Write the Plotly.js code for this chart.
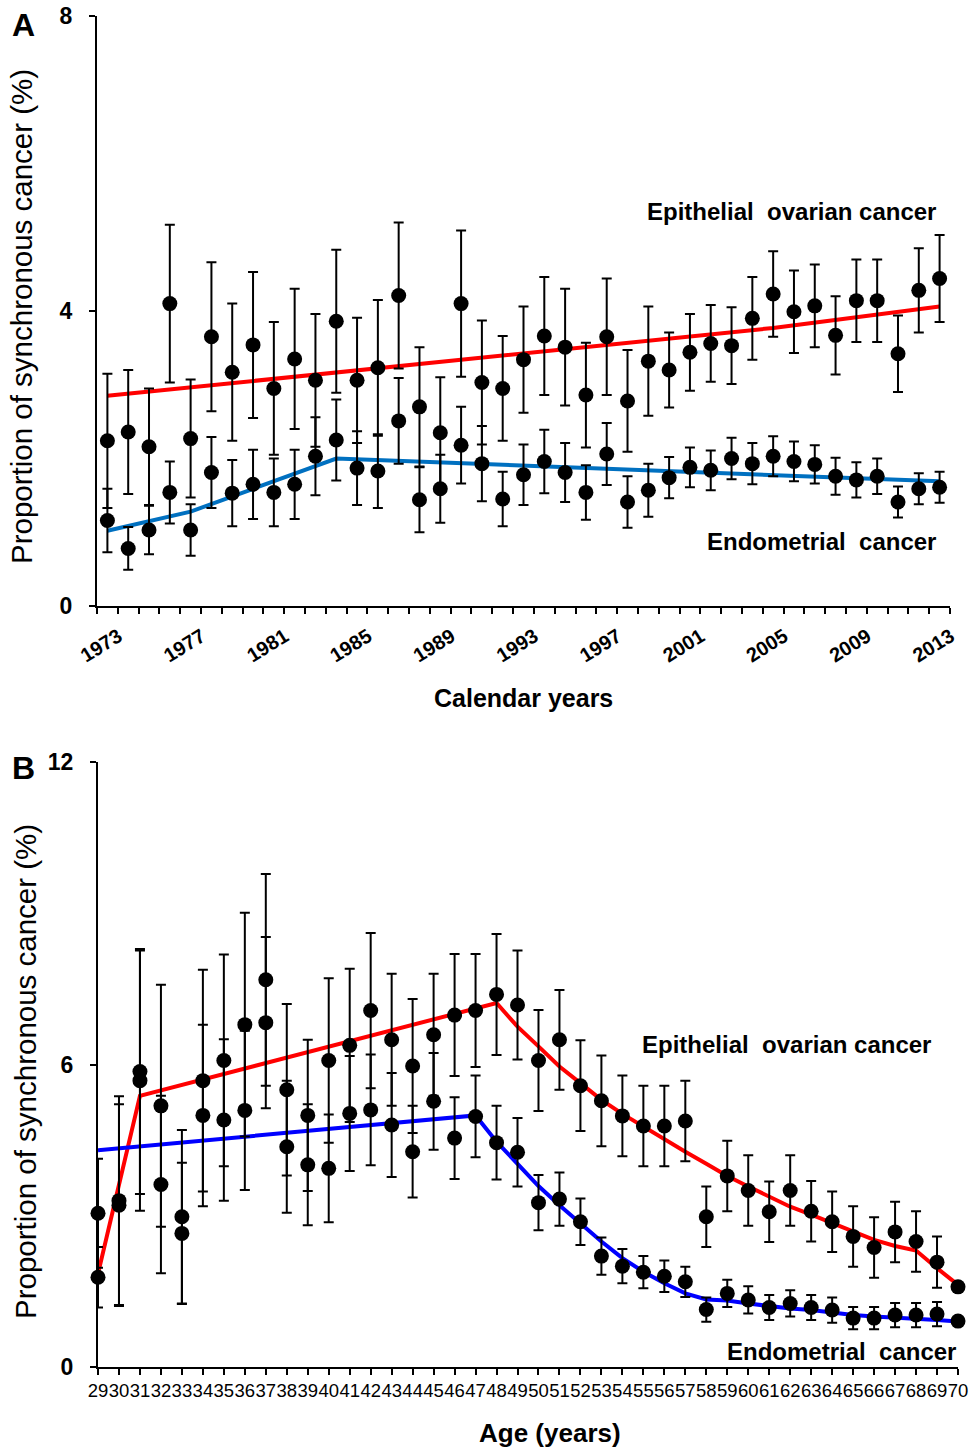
<!DOCTYPE html>
<html>
<head>
<meta charset="utf-8">
<script src="https://cdn.plot.ly/plotly-3.0.1.min.js"></script>
<style>
  html, body { margin: 0; padding: 0; background: #fff; }
  #chart { width: 969px; height: 1451px; }
</style>
</head>
<body>
<div id="chart"></div>
<script>
// ---------- Panel A: calendar years ----------
const years = [1973,1974,1975,1976,1977,1978,1979,1980,1981,1982,1983,1984,1985,1986,1987,1988,1989,1990,1991,1992,
               1993,1994,1995,1996,1997,1998,1999,2000,2001,2002,2003,2004,2005,2006,2007,2008,2009,2010,2011,2012,2013];
const yearTickLabels = [1973,1977,1981,1985,1989,1993,1997,2001,2005,2009,2013];

const ovarianByYear = [2.24,2.36,2.16,4.10,2.27,3.65,3.17,3.54,2.95,3.35,3.06,3.86,3.06,3.23,4.21,2.70,2.35,4.10,3.03,2.95,
                       3.34,3.66,3.51,2.86,3.65,2.78,3.32,3.20,3.44,3.56,3.53,3.90,4.23,3.99,4.07,3.67,4.14,4.14,3.42,4.28,4.44];
const ovarianByYearErr = [0.91,0.84,0.79,1.07,0.80,1.01,0.93,0.99,0.90,0.95,0.90,0.97,0.85,0.92,0.99,0.81,0.75,0.99,0.84,0.71,
                          0.72,0.80,0.79,0.71,0.79,0.69,0.74,0.51,0.52,0.52,0.52,0.56,0.58,0.56,0.56,0.53,0.56,0.56,0.52,0.57,0.59];
const endometrialByYear = [1.16,0.78,1.03,1.54,1.03,1.81,1.53,1.65,1.54,1.65,2.03,2.25,1.87,1.83,2.51,1.44,1.59,2.18,1.93,1.45,
                           1.78,1.96,1.81,1.54,2.06,1.41,1.57,1.74,1.88,1.84,2.00,1.93,2.03,1.96,1.92,1.76,1.71,1.76,1.41,1.59,1.61];
const endometrialByYearErr = [0.43,0.29,0.33,0.42,0.35,0.48,0.45,0.47,0.46,0.47,0.53,0.55,0.50,0.50,0.58,0.44,0.46,0.52,0.51,0.37,
                              0.41,0.43,0.40,0.37,0.42,0.35,0.36,0.28,0.27,0.27,0.28,0.28,0.27,0.27,0.26,0.25,0.24,0.24,0.21,0.21,0.21];

// fitted (joinpoint) trend lines, panel A
const ovarianYearFitX = [1973, 2005, 2013];
const ovarianYearFitY = [2.85, 3.77, 4.06];
const endometrialYearFitX = [1973, 1977, 1984, 2013];
const endometrialYearFitY = [1.02, 1.28, 2.00, 1.69];

// ---------- Panel B: age ----------
const ages = [29,30,31,32,33,34,35,36,37,38,39,40,41,42,43,44,45,46,47,48,49,
              50,51,52,53,54,55,56,57,58,59,60,61,62,63,64,65,66,67,68,69,70];
const ovarianByAge = [1.78,3.21,5.68,5.18,2.98,5.68,6.08,6.79,7.68,5.50,4.99,6.08,6.38,7.07,6.49,5.97,6.59,6.98,7.07,7.39,7.18,
                      6.08,6.49,5.58,5.28,4.98,4.78,4.78,4.88,2.98,3.79,3.50,3.08,3.50,3.09,2.88,2.59,2.37,2.68,2.49,2.08,1.59];
const ovarianByAgeErr = [0.60,2.00,2.58,2.40,1.72,2.20,2.10,2.22,2.10,1.70,1.50,1.63,1.52,1.54,1.31,1.33,1.21,1.21,1.12,1.20,1.08,
                         1.00,0.99,0.90,0.90,0.80,0.80,0.80,0.80,0.60,0.70,0.70,0.60,0.70,0.60,0.60,0.60,0.60,0.60,0.60,0.51,0.00];
const endometrialByAge = [3.05,3.30,5.86,3.62,2.65,4.99,4.90,5.09,6.83,4.37,4.01,3.94,5.03,5.10,4.80,4.27,5.27,4.54,4.97,4.45,4.26,
                          3.26,3.33,2.88,2.20,2.00,1.88,1.80,1.69,1.14,1.46,1.33,1.18,1.26,1.18,1.13,0.97,0.97,1.03,1.03,1.05,0.91];
const endometrialByAgeErr = [1.08,2.07,2.43,1.76,1.40,1.80,1.60,1.58,1.70,1.31,1.20,1.07,1.14,1.10,1.03,0.91,0.96,0.81,0.81,0.73,0.68,
                             0.55,0.53,0.46,0.37,0.34,0.32,0.31,0.30,0.24,0.27,0.27,0.25,0.26,0.25,0.25,0.22,0.22,0.24,0.24,0.24,0.00];

// fitted trend lines, panel B
const ovarianAgeFitX = [29,31,48,49,50,51,52,53,54,55,56,57,58,59,60,61,62,63,64,65,66,67,68,69,70];
const ovarianAgeFitY = [1.85,5.38,7.22,6.75,6.36,5.96,5.63,5.30,5.02,4.77,4.50,4.27,4.03,3.79,3.58,3.37,3.18,3.02,2.85,2.69,2.52,2.40,2.31,1.96,1.63];
const endometrialAgeFitX = [29,47,48,49,50,51,52,53,54,55,56,57,58,59,60,61,62,63,64,65,66,67,68,69,70];
const endometrialAgeFitY = [4.30,4.99,4.47,4.04,3.59,3.21,2.85,2.49,2.16,1.89,1.66,1.46,1.34,1.32,1.26,1.21,1.16,1.13,1.08,1.03,1.00,0.98,0.97,0.93,0.90];

// ---------- styling ----------
const FONT = "Liberation Sans, Arial, Helvetica, sans-serif";
const W = 969, H = 1451;
const px = v => v / W;
const py = v => (H - v) / H;

function pointsTrace(x, y, err, xa, ya) {
  return {
    x: x, y: y, xaxis: xa, yaxis: ya, type: 'scatter', mode: 'markers',
    marker: { color: '#000', size: 15 },
    error_y: { type: 'data', array: err, visible: true, color: '#000', thickness: 2, width: 5 },
    cliponaxis: false, showlegend: false, hoverinfo: 'x+y'
  };
}
function lineTrace(x, y, color, xa, ya) {
  return {
    x: x, y: y, xaxis: xa, yaxis: ya, type: 'scatter', mode: 'lines',
    line: { color: color, width: 4 }, cliponaxis: false, showlegend: false, hoverinfo: 'skip'
  };
}

const data = [
  lineTrace(ovarianYearFitX, ovarianYearFitY, '#FF0000', 'x', 'y'),
  lineTrace(endometrialYearFitX, endometrialYearFitY, '#0070C0', 'x', 'y'),
  pointsTrace(years, ovarianByYear, ovarianByYearErr, 'x', 'y'),
  pointsTrace(years, endometrialByYear, endometrialByYearErr, 'x', 'y'),
  lineTrace(ovarianAgeFitX, ovarianAgeFitY, '#FF0000', 'x2', 'y2'),
  lineTrace(endometrialAgeFitX, endometrialAgeFitY, '#0000FF', 'x2', 'y2'),
  pointsTrace(ages, ovarianByAge, ovarianByAgeErr, 'x2', 'y2'),
  pointsTrace(ages, endometrialByAge, endometrialByAgeErr, 'x2', 'y2')
];

const axisLine = { showline: true, linecolor: '#000', linewidth: 2, showgrid: false, zeroline: false };

const layout = {
  width: W, height: H,
  margin: { l: 0, r: 0, t: 0, b: 0 },
  paper_bgcolor: '#fff', plot_bgcolor: '#fff',
  font: { family: FONT, color: '#000' },
  showlegend: false,
  xaxis: Object.assign({}, axisLine, {
    domain: [px(97), px(950)],
    range: [1972.5, 2013.5],
    tickmode: 'array', tickvals: yearTickLabels, ticktext: yearTickLabels.map(String),
    ticks: '', tickangle: -32, ticklabelstandoff: 9, ticklabelshift: 11,
    tickfont: { family: FONT, size: 20, color: '#000', weight: 'bold' },
    minor: { tickmode: 'linear', tick0: 1972.5, dtick: 1, ticks: 'outside', ticklen: 6, tickwidth: 2, tickcolor: '#000', showgrid: false }
  }),
  yaxis: Object.assign({}, axisLine, {
    domain: [py(606), py(16)],
    range: [0, 8],
    tickmode: 'array', tickvals: [0, 4, 8],
    ticks: 'outside', ticklen: 6, tickwidth: 2, tickcolor: '#000', ticklabelstandoff: 12,
    tickfont: { family: FONT, size: 23, color: '#000', weight: 'bold' }
  }),
  xaxis2: Object.assign({}, axisLine, {
    domain: [px(98), px(958)],
    range: [29, 70],
    anchor: 'y2',
    tickmode: 'array', tickvals: ages, ticktext: ages.map(String),
    ticks: 'outside', ticklen: 6, tickwidth: 2, tickcolor: '#000', tickangle: 0,
    tickfont: { family: FONT, size: 18.5, color: '#000' }
  }),
  yaxis2: Object.assign({}, axisLine, {
    domain: [py(1367), py(762)],
    range: [0, 12],
    anchor: 'x2',
    tickmode: 'array', tickvals: [0, 6, 12],
    ticks: 'outside', ticklen: 6, tickwidth: 2, tickcolor: '#000', ticklabelstandoff: 12,
    tickfont: { family: FONT, size: 23, color: '#000', weight: 'bold' }
  }),
  annotations: [
    { text: '<b>A</b>', x: px(23), y: py(25), xref: 'paper', yref: 'paper', xanchor: 'center', yanchor: 'middle', showarrow: false, font: { family: FONT, size: 32, color: '#000' } },
    { text: '<b>B</b>', x: px(23), y: py(768), xref: 'paper', yref: 'paper', xanchor: 'center', yanchor: 'middle', showarrow: false, font: { family: FONT, size: 32, color: '#000' } },
    { text: 'Proportion of synchronous cancer (%)', x: px(22), y: py(317), xref: 'paper', yref: 'paper', xanchor: 'center', yanchor: 'middle', textangle: -90, showarrow: false, font: { family: FONT, size: 29.5, color: '#000' } },
    { text: 'Proportion of synchronous cancer (%)', x: px(25), y: py(1072), xref: 'paper', yref: 'paper', xanchor: 'center', yanchor: 'middle', textangle: -90, showarrow: false, font: { family: FONT, size: 29.5, color: '#000' } },
    { text: '<b>Calendar years</b>', x: px(523), y: py(698), xref: 'paper', yref: 'paper', xanchor: 'center', yanchor: 'middle', showarrow: false, font: { family: FONT, size: 25, color: '#000' } },
    { text: '<b>Age (years)</b>', x: px(550), y: py(1433), xref: 'paper', yref: 'paper', xanchor: 'center', yanchor: 'middle', showarrow: false, font: { family: FONT, size: 26, color: '#000' } },
    { text: '<b>Epithelial&nbsp; ovarian cancer</b>', x: px(938), y: py(211), xref: 'paper', yref: 'paper', xanchor: 'right', yanchor: 'middle', showarrow: false, font: { family: FONT, size: 24, color: '#000' } },
    { text: '<b>Endometrial&nbsp; cancer</b>', x: px(938), y: py(541), xref: 'paper', yref: 'paper', xanchor: 'right', yanchor: 'middle', showarrow: false, font: { family: FONT, size: 24, color: '#000' } },
    { text: '<b>Epithelial&nbsp; ovarian cancer</b>', x: px(933), y: py(1044), xref: 'paper', yref: 'paper', xanchor: 'right', yanchor: 'middle', showarrow: false, font: { family: FONT, size: 24, color: '#000' } },
    { text: '<b>Endometrial&nbsp; cancer</b>', x: px(958), y: py(1351), xref: 'paper', yref: 'paper', xanchor: 'right', yanchor: 'middle', showarrow: false, font: { family: FONT, size: 24, color: '#000' } }
  ]
};

Plotly.newPlot('chart', data, layout, { displayModeBar: false, staticPlot: true });
</script>
</body>
</html>
